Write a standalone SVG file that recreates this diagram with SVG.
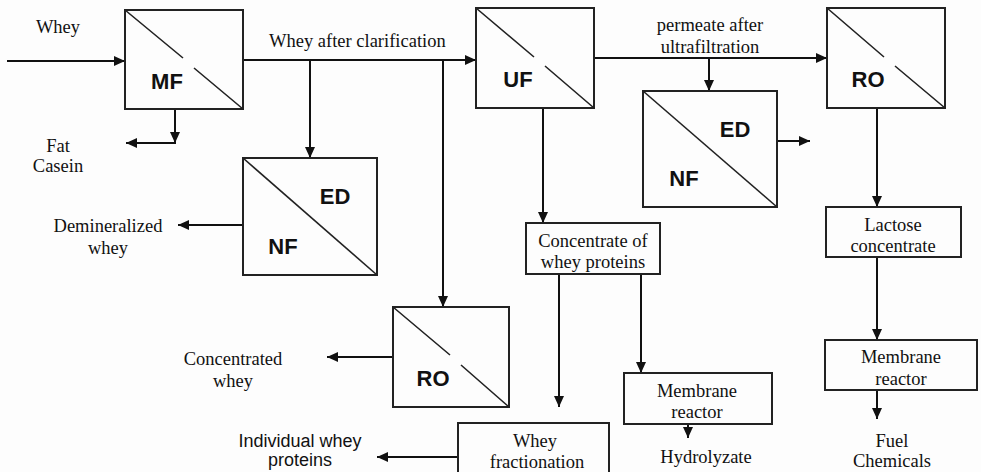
<svg xmlns="http://www.w3.org/2000/svg" width="981" height="472" viewBox="0 0 981 472">
<defs>
<marker id="ah" markerUnits="userSpaceOnUse" markerWidth="12" markerHeight="10" refX="11" refY="5" orient="auto">
<path d="M0,0 L11,5 L0,10 z" fill="#111"/>
</marker>
<style>
.box{fill:none;stroke:#222;stroke-width:2}
.dg{fill:none;stroke:#222;stroke-width:1.6}
.cn{fill:none;stroke:#111;stroke-width:2;marker-end:url(#ah)}
.sr{font-family:"Liberation Serif","Times New Roman",serif;font-size:18.5px;fill:#111;text-anchor:middle}
.bl{font-family:"Liberation Sans",Arial,sans-serif;font-size:22px;font-weight:bold;fill:#111;text-anchor:middle}
.ss{font-family:"Liberation Sans",Arial,sans-serif;font-size:18px;fill:#111;text-anchor:middle}
</style>
</defs>
<rect width="981" height="472" fill="#fdfdfd"/>

<g id="connectors">
<path class="cn" d="M7,61 H125"/>
<path class="cn" d="M243,60 H476"/>
<path class="cn" d="M310,60 V158"/>
<path class="cn" d="M443,60 V307"/>
<path class="cn" d="M175,109 V143"/>
<path class="cn" d="M176,143 H126"/>
<path class="cn" d="M243,225 H178"/>
<path class="cn" d="M393,357 H327"/>
<path class="cn" d="M594,58 H827"/>
<path class="cn" d="M709,58 V91"/>
<path class="cn" d="M777,141 H810"/>
<path class="cn" d="M877,108 V207"/>
<path class="cn" d="M877,257 V340"/>
<path class="cn" d="M877,390 V419"/>
<path class="cn" d="M543,108 V223"/>
<path class="cn" d="M559,274 V407"/>
<path class="cn" d="M641,274 V373"/>
<path class="cn" d="M688,424 V438"/>
<path class="cn" d="M458,457 H377"/>
</g>

<g id="mf">
<rect class="box" x="125" y="10" width="118" height="99"/>
<path class="dg" d="M125,10 L183,58 M194,68 L243,109"/>
<text class="bl" x="167" y="89">MF</text>
</g>

<g id="uf">
<rect class="box" x="476" y="8" width="118" height="100"/>
<path class="dg" d="M476,8 L534,57 M545,66 L594,108"/>
<text class="bl" x="518" y="87">UF</text>
</g>

<g id="ro-top">
<rect class="box" x="827" y="8" width="118" height="100"/>
<path class="dg" d="M827,8 L884,57 M895,66 L945,108"/>
<text class="bl" x="868" y="87">RO</text>
</g>

<g id="nfed-left">
<rect class="box" x="243" y="158" width="134" height="117"/>
<path class="dg" d="M243,158 L377,275"/>
<text class="bl" x="335" y="204">ED</text>
<text class="bl" x="283" y="254">NF</text>
</g>

<g id="nfed-right">
<rect class="box" x="643" y="91" width="134" height="116"/>
<path class="dg" d="M643,91 L777,207"/>
<text class="bl" x="735" y="137">ED</text>
<text class="bl" x="684" y="186">NF</text>
</g>

<g id="ro-bottom">
<rect class="box" x="393" y="307" width="116" height="100"/>
<path class="dg" d="M393,307 L450,355 M461,365 L509,407"/>
<text class="bl" x="433" y="386">RO</text>
</g>

<g id="concentrate">
<rect class="box" x="526" y="223" width="134" height="51"/>
<text class="sr" x="593" y="247">Concentrate of</text>
<text class="sr" x="593" y="268">whey proteins</text>
</g>

<g id="lactose">
<rect class="box" x="826" y="207" width="135" height="50"/>
<text class="sr" x="893" y="231">Lactose</text>
<text class="sr" x="893" y="252">concentrate</text>
</g>

<g id="membrane2">
<rect class="box" x="825" y="340" width="152" height="50"/>
<text class="sr" x="901" y="363">Membrane</text>
<text class="sr" x="901" y="385">reactor</text>
</g>

<g id="membrane1">
<rect class="box" x="624" y="373" width="148" height="51"/>
<text class="sr" x="697" y="397">Membrane</text>
<text class="sr" x="697" y="418">reactor</text>
</g>

<g id="fractionation">
<rect class="box" x="458" y="423" width="151" height="60"/>
<text class="sr" x="535" y="447">Whey</text>
<text class="sr" x="537" y="468">fractionation</text>
</g>

<g id="labels">
<text class="sr" x="58" y="33">Whey</text>
<text class="sr" x="269" y="47" style="text-anchor:start">Whey after clarification</text>
<text class="sr" x="58" y="152">Fat</text>
<text class="sr" x="58" y="172">Casein</text>
<text class="sr" x="108" y="232">Demineralized</text>
<text class="sr" x="108" y="254">whey</text>
<text class="sr" x="233" y="365">Concentrated</text>
<text class="sr" x="233" y="387">whey</text>
<text class="ss" x="300" y="447">Individual whey</text>
<text class="ss" x="300" y="466">proteins</text>
<text class="sr" x="710" y="31">permeate after</text>
<text class="sr" x="710" y="53">ultrafiltration</text>
<text class="sr" x="706" y="463">Hydrolyzate</text>
<text class="sr" x="892" y="447">Fuel</text>
<text class="sr" x="892" y="467">Chemicals</text>
</g>
</svg>
